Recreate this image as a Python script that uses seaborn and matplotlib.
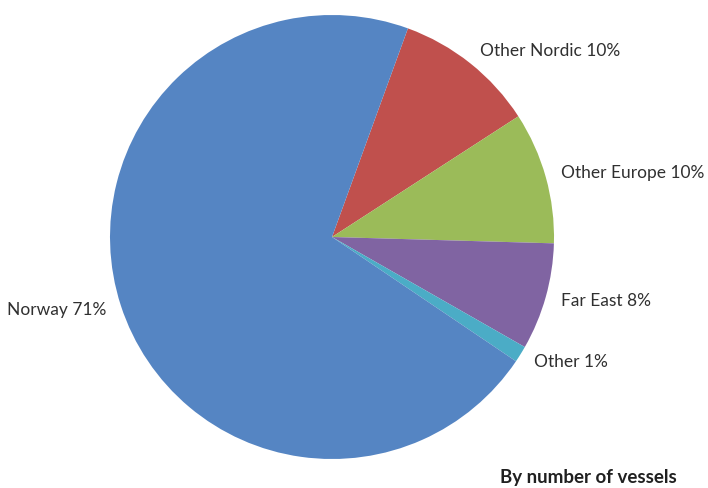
import matplotlib
matplotlib.use("Agg")
import matplotlib.pyplot as plt
import seaborn as sns

sns.set_theme(style="white")
plt.rcParams['font.family'] = ['Lato', 'DejaVu Sans']

categories = ["Other Nordic", "Other Europe", "Far East", "Other", "Norway"]
shares = [10.3, 9.6, 7.8, 1.2, 71.1]
label_pct = ["10%", "10%", "8%", "1%", "71%"]
colors = ["#c0504d", "#9bbb59", "#8064a2", "#4bacc6", "#5585c3"]

labels = [f"{c} {p}" for c, p in zip(categories, label_pct)]

fig = plt.figure(figsize=(7.08, 4.88), dpi=100)
W, H = 708, 488
cx, cy, r = 332, 237, 222
ax = fig.add_axes([(cx - r) / W, (H - cy - r) / H, 2 * r / W, 2 * r / H])
wedges, texts = ax.pie(shares, labels=labels, colors=colors, startangle=70,
                       counterclock=False, labeldistance=1.07, radius=1,
                       wedgeprops=dict(linewidth=0),
                       textprops=dict(fontsize=12.5, color="#303030"))
ax.set_xlim(-1, 1)
ax.set_ylim(-1, 1)
ax.set_aspect("equal")
ax.axis("off")
fig.text(500 / W, 1 - 478 / H, "By number of vessels", fontsize=13.5,
         fontweight="bold", color="#202020", ha="left", va="center")
fig.savefig("out.png", dpi=100)
